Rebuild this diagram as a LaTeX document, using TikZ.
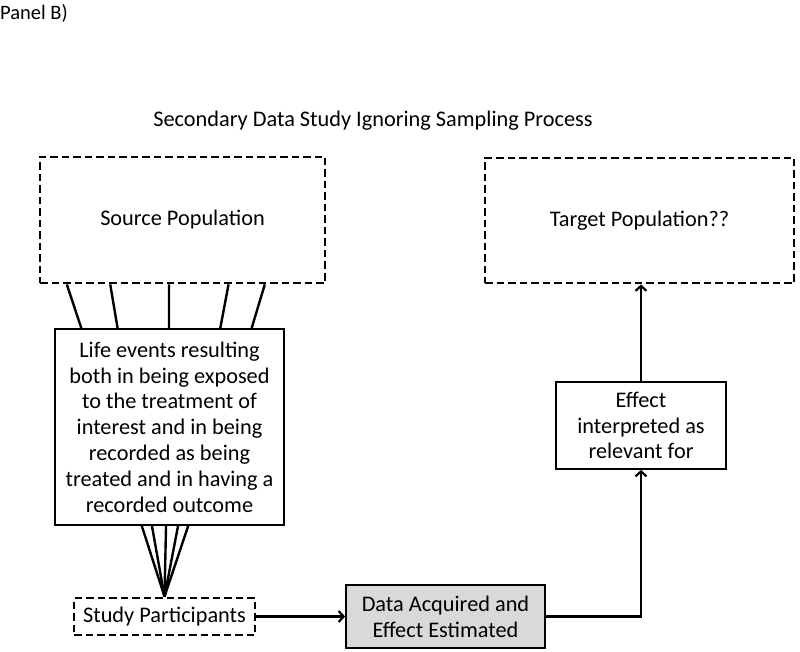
\documentclass[tikz,border=0pt]{standalone}
\usepackage{fontspec}
\setmainfont{Carlito}
\usetikzlibrary{arrows.meta}
\usetikzlibrary{calc, positioning}

\definecolor{boxgray}{RGB}{217,217,217}

\tikzset{
  dashbox/.style={draw, line width=2.8pt, dash pattern=on 7.5pt off 4pt, inner sep=0pt, align=center},
  plainbox/.style={draw, line width=1.8pt, inner sep=0pt, fill=white, align=center},
  fanline/.style={line width=2.4pt},
  flowarrow/.style={line width=2.2pt, -{Straight Barb[length=5pt,width=11pt]}},
}

\begin{document}
\begin{tikzpicture}[x=1pt, y=-1pt, font=\fontsize{22.3}{25.8}\selectfont]
          \useasboundingbox (0,0) rectangle (800,652);

          \node [anchor=west, inner sep=0pt, font=\fontsize{20.5}{24}\selectfont] (panel) at (0,13) {Panel B)};
          \node (title) at (373,121) {Secondary Data Study Ignoring Sampling Process};

          \node [dashbox, minimum width=285pt, minimum height=126pt] (source) at (182.5,220) {Source Population}; % Draws a box
          \node [dashbox, minimum width=309pt, minimum height=125pt] (target) at (639.5,220.5) {Target Population??}; % Draws a box

          \node [plainbox, minimum width=229pt, minimum height=196pt] (life) at (169.5,427)
            {Life events resulting\\both in being exposed\\to the treatment of\\interest and in being\\recorded as being\\treated and in having a\\recorded outcome};
          \node [plainbox, minimum width=170pt, minimum height=87pt] (effect) at (641,425.5) {Effect\\interpreted as\\relevant for};

          \node [dashbox, minimum width=181pt, minimum height=37pt] (participants) at (164.5,616.5) {Study Participants};
          \node [plainbox, fill=boxgray, minimum width=199pt, minimum height=63pt] (data) at (445.5,616.5) {Data Acquired and\\Effect Estimated};

          \draw [fanline] ($(source.south west)!0.098!(source.south east)$) to ($(life.north west)!0.118!(life.north east)$);
          \draw [fanline] ($(source.south west)!0.249!(source.south east)$) to ($(life.north west)!0.275!(life.north east)$);
          \draw [fanline] ($(source.south west)!0.453!(source.south east)$) to ($(life.north west)!0.498!(life.north east)$);
          \draw [fanline] ($(source.south west)!0.660!(source.south east)$) to ($(life.north west)!0.720!(life.north east)$);
          \draw [fanline] ($(source.south west)!0.786!(source.south east)$) to ($(life.north west)!0.856!(life.north east)$);

          \draw [fanline] ($(life.south west)!0.380!(life.south east)$) to (participants.north);
          \draw [fanline] ($(life.south west)!0.424!(life.south east)$) to (participants.north);
          \draw [fanline] ($(life.south west)!0.485!(life.south east)$) to (participants.north);
          \draw [fanline] ($(life.south west)!0.537!(life.south east)$) to (participants.north);
          \draw [fanline] ($(life.south west)!0.581!(life.south east)$) to (participants.north);

          \draw [flowarrow] (participants.east) to (data.west);
          \draw [flowarrow] (data.east) -| (effect.south);
          \draw [flowarrow] (effect.north) to (effect.north |- target.south);
          % \draw [thick] (life.south) to (participants.north);
        \end{tikzpicture}
\end{document}
